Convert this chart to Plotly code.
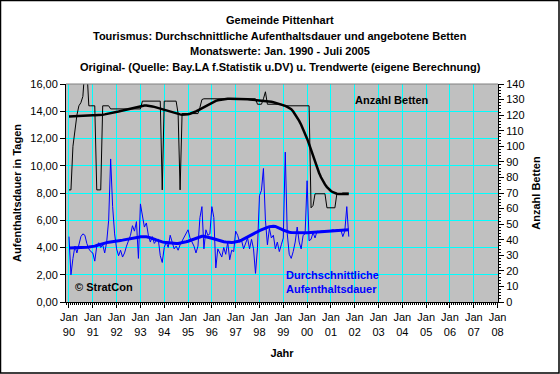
import plotly.graph_objects as go

# ---- data (monthly, Jan 1990 .. Oct 2001); month index 0 = Jan 1990 ----
monat_index = list(range(142))

aufenthalt_roh = [
    4.8, 2.0, 3.2, 4.1, 3.6, 4.3, 4.8, 5.0, 4.9, 4.3, 3.9, 3.7,
    3.6, 3.0, 4.1, 4.35, 4.0, 4.2, 3.6, 4.4, 6.0, 10.5, 7.0, 5.0,
    3.9, 3.4, 3.8, 3.3, 3.6, 4.1, 4.5, 4.9, 5.6, 5.2, 5.9, 3.2,
    7.2, 6.3, 5.5, 5.8, 4.9, 4.4, 4.8, 4.3, 4.5, 4.6, 3.4, 2.9,
    4.0, 4.4, 4.0, 4.9, 4.3, 3.9, 4.1, 3.8, 4.2, 4.5, 4.8, 5.1,
    5.3, 4.7, 4.35, 4.1, 3.6, 4.1, 6.2, 7.0, 3.9, 5.3, 4.9, 5.0,
    7.0, 6.2, 2.5, 3.9, 3.6, 3.3, 4.0, 3.5, 4.4, 3.1, 3.8, 3.7,
    5.2, 4.9, 4.4, 4.5, 3.9, 4.3, 4.7, 3.9, 4.6, 3.9, 2.1, 4.0,
    7.8, 8.2, 9.8, 6.0, 4.2, 5.4, 4.7, 4.9, 3.9, 4.4, 3.7, 4.2,
    4.7, 11.0, 5.0, 3.5, 3.2, 3.7, 4.4, 5.5, 4.4, 3.9, 4.9, 5.0,
    8.9, 4.5, 4.6, 5.1, 4.7, 5.2, 5.15, 5.2, 5.2, 5.25, 5.2, 5.25,
    5.25, 5.3, 5.25, 5.3, 5.3, 5.3, 4.8, 5.2, 7.0, 4.8,
]

aufenthalt_trend = [
    3.97, 3.97, 3.98, 3.98, 3.99, 3.99, 4.0, 4.0, 4.01, 4.02, 4.03, 4.04,
    4.06, 4.1, 4.15, 4.2, 4.25, 4.3, 4.33, 4.36, 4.39, 4.42, 4.44, 4.46,
    4.48, 4.5, 4.52, 4.54, 4.56, 4.58, 4.6, 4.63, 4.66, 4.69, 4.72, 4.75,
    4.78, 4.79, 4.79, 4.78, 4.76, 4.73, 4.68, 4.62, 4.56, 4.5, 4.45, 4.41,
    4.38, 4.36, 4.34, 4.32, 4.31, 4.3, 4.3, 4.3, 4.32, 4.35, 4.38, 4.42,
    4.46, 4.52, 4.58, 4.64, 4.7, 4.75, 4.79, 4.82, 4.83, 4.81, 4.77, 4.72,
    4.68, 4.63, 4.58, 4.53, 4.49, 4.45, 4.42, 4.4, 4.38, 4.37, 4.37, 4.38,
    4.4, 4.43, 4.48, 4.54, 4.61, 4.68, 4.76, 4.84, 4.92, 5.0, 5.08, 5.16,
    5.24, 5.31, 5.37, 5.43, 5.48, 5.52, 5.55, 5.56, 5.55, 5.5, 5.43, 5.35,
    5.27, 5.2, 5.15, 5.12, 5.1, 5.09, 5.08, 5.08, 5.08, 5.08, 5.08, 5.08,
    5.08, 5.09, 5.1, 5.11, 5.12, 5.13, 5.14, 5.15, 5.17, 5.19, 5.21, 5.23,
    5.24, 5.25, 5.26, 5.27, 5.28, 5.28, 5.29, 5.29, 5.3, 5.3,
]

betten_roh = [
    72, 72, 100, 112, 120, 126, 128, 132, 150, 150, 126, 126,
    126, 126, 72, 72, 72, 126, 126, 126, 126, 124, 124, 124,
    124, 124, 124, 124, 124, 124, 124, 124, 124, 124, 124, 124,
    124, 129, 129, 129, 129, 129, 129, 129, 129, 129, 129, 72,
    129, 129, 129, 129, 129, 129, 129, 121, 72, 121, 121, 121,
    121, 121, 121, 121, 121, 121, 125, 130, 130.5, 130.5, 130.5, 130.5,
    130.5, 130.5, 130.5, 130.5, 130.5, 130.5, 130.5, 130.5, 130.5, 130.5, 130.5, 130.5,
    130.5, 130.5, 130.5, 130.5, 130.5, 130.5, 130.5, 130.5, 130.5, 130.5, 130.5, 127,
    127, 127, 130.5, 135, 127, 127, 127, 127, 127, 127, 127, 127,
    126, 126, 126, 126, 126, 126, 126, 126, 126, 126, 126, 126,
    126, 126, 60.5, 62, 69.5, 69.5, 69.5, 69.5, 69.5, 69.5, 60.5, 60.5,
    60.5, 60.5, 60.5, 69.5, 69.5, 69.5, 70, 70, 70, 70,
]

betten_trend = [
    119.2, 119.3, 119.4, 119.5, 119.6, 119.7, 119.7, 119.8, 119.8, 119.9, 119.9, 120.0,
    120.0, 120.0, 120.0, 120.0, 120.1, 120.3, 120.5, 120.7, 120.9, 121.1, 121.4, 121.7,
    122.0, 122.3, 122.6, 122.9, 123.2, 123.5, 123.8, 124.1, 124.5, 124.9, 125.3, 125.6,
    125.9, 126.1, 126.2, 126.2, 126.1, 125.9, 125.6, 125.3, 124.9, 124.5, 124.1, 123.7,
    123.3, 122.9, 122.5, 122.1, 121.7, 121.3, 121.0, 120.7, 120.5, 120.3, 120.3, 120.4,
    120.6, 120.9, 121.3, 121.8, 122.4, 123.1, 123.8, 124.6, 125.4, 126.2, 126.9, 127.6,
    128.2, 128.7, 129.2, 129.6, 129.9, 130.2, 130.4, 130.5, 130.6, 130.6, 130.6, 130.6,
    130.6, 130.5, 130.5, 130.4, 130.4, 130.3, 130.2, 130.1, 130.0, 129.9, 129.8, 129.7,
    129.6, 129.5, 129.3, 129.2, 129.0, 128.8, 128.6, 128.3, 128.0, 127.7, 127.3, 126.9,
    126.5, 126.0, 125.3, 124.6, 123.8, 122.3, 120.5, 118.5, 116.3, 113.8, 111.1, 108.2,
    104.9, 101.4, 97.6, 93.7, 89.9, 86.3, 83.0, 80.1, 77.6, 75.5, 73.8, 72.4,
    71.3, 70.5, 69.9, 69.5, 69.3, 69.2, 69.2, 69.2, 69.3, 69.3,
]

x_tickvals = [0, 12, 24, 36, 48, 60, 72, 84, 96, 108, 120, 132, 144, 156, 168, 180, 192, 204, 216]
x_ticktext = ["Jan<br>90", "Jan<br>91", "Jan<br>92", "Jan<br>93", "Jan<br>94", "Jan<br>95",
              "Jan<br>96", "Jan<br>97", "Jan<br>98", "Jan<br>99", "Jan<br>00", "Jan<br>01",
              "Jan<br>02", "Jan<br>03", "Jan<br>04", "Jan<br>05", "Jan<br>06", "Jan<br>07",
              "Jan<br>08"]

titel_zeilen = [
    "Gemeinde Pittenhart",
    "Tourismus: Durchschnittliche Aufenthaltsdauer und angebotene Betten",
    "Monatswerte: Jan. 1990 - Juli 2005",
    "Original- (Quelle: Bay.LA f.Statistik u.DV) u. Trendwerte (eigene Berechnung)",
]

FONT = "Liberation Sans, Arial, sans-serif"
BLUE = "#0000FF"

fig = go.Figure()
fig.add_trace(go.Scatter(x=monat_index, y=aufenthalt_roh, mode="lines",
                         line=dict(color=BLUE, width=1), yaxis="y"))
fig.add_trace(go.Scatter(x=monat_index, y=aufenthalt_trend, mode="lines",
                         line=dict(color=BLUE, width=3), yaxis="y"))
fig.add_trace(go.Scatter(x=monat_index, y=betten_roh, mode="lines",
                         line=dict(color="black", width=1), yaxis="y2"))
fig.add_trace(go.Scatter(x=monat_index, y=betten_trend, mode="lines",
                         line=dict(color="black", width=2.5), yaxis="y2"))

W, H = 560, 374
L, R, T, B = 66, 62, 84, 72
pw, ph = W - L - R, H - T - B

def px(xp):
    return (xp - L) / pw

def py(yp):
    return (H - B - yp) / ph

annotations = []
for i, line in enumerate(titel_zeilen):
    annotations.append(dict(text="<b>%s</b>" % line, x=px(280), y=py(20 + 15.7 * i),
                            xref="paper", yref="paper", showarrow=False,
                            xanchor="center", yanchor="middle",
                            font=dict(family=FONT, size=11, color="black")))
annotations.append(dict(text="<b>Anzahl Betten</b>", x=px(353), y=py(100),
                        xref="paper", yref="paper", showarrow=False,
                        xanchor="left", yanchor="middle",
                        font=dict(family=FONT, size=11, color="black")))
annotations.append(dict(text="<b>Durchschnittliche<br>Aufenthaltsdauer</b>",
                        x=px(284), y=py(282), xref="paper", yref="paper",
                        showarrow=False, xanchor="left", yanchor="middle", align="left",
                        font=dict(family=FONT, size=11, color=BLUE)))
annotations.append(dict(text="<b>© StratCon</b>", x=px(73), y=py(287),
                        xref="paper", yref="paper", showarrow=False,
                        xanchor="left", yanchor="middle",
                        font=dict(family=FONT, size=11, color="black")))

fig.update_layout(
    width=W, height=H,
    margin=dict(l=L, r=R, t=T, b=B),
    paper_bgcolor="white", plot_bgcolor="#C0C0C0",
    separators=",.",
    showlegend=False,
    hovermode=False,
    font=dict(family=FONT, size=11, color="black"),
    annotations=annotations,
    xaxis=dict(
        range=[-1.5, 216.2],
        tickmode="array", tickvals=x_tickvals, ticktext=x_ticktext,
        showgrid=True, gridcolor="#00FFFF", gridwidth=1,
        ticks="outside", ticklen=5, tickcolor="black",
        showline=True, linecolor="black", linewidth=1,
        minor=dict(tickmode="linear", tick0=0, dtick=1, ticks="outside", ticklen=2,
                   tickcolor="black", showgrid=False),
        zeroline=False,
        title=dict(text="<b>Jahr</b>", font=dict(size=11), standoff=12),
        tickfont=dict(size=11),
    ),
    yaxis=dict(
        range=[0, 16], dtick=2, tickformat=".2f",
        showgrid=True, gridcolor="#00FFFF", gridwidth=1,
        ticks="outside", ticklen=5, tickcolor="black",
        showline=True, linecolor="black", linewidth=1, zeroline=False,
        title=dict(text="<b>Aufenthaltsdauer in Tagen</b>", font=dict(size=11), standoff=6),
        tickfont=dict(size=11),
    ),
    yaxis2=dict(
        range=[0, 140], dtick=10, overlaying="y", side="right",
        showgrid=False, ticks="outside", ticklen=5, tickcolor="black",
        showline=True, linecolor="black", linewidth=1, zeroline=False,
        minor=dict(dtick=2, ticks="outside", ticklen=2, tickcolor="black"),
        title=dict(text="<b>Anzahl Betten</b>", font=dict(size=11), standoff=8),
        tickfont=dict(size=11),
    ),
    shapes=[
        dict(type="rect", xref="paper", yref="paper",
             x0=px(0.5), x1=px(W - 1), y0=py(H - 1), y1=py(0.5),
             line=dict(color="black", width=1.5), fillcolor="rgba(0,0,0,0)", layer="above"),
        dict(type="line", xref="paper", yref="paper", x0=0, x1=1, y0=1, y1=1,
             line=dict(color="#808080", width=1)),
    ],
)

fig.write_html("out.html",
               config={"displayModeBar": False, "staticPlot": True},
               post_script="document.body.style.margin='0';document.body.style.overflow='hidden';")
